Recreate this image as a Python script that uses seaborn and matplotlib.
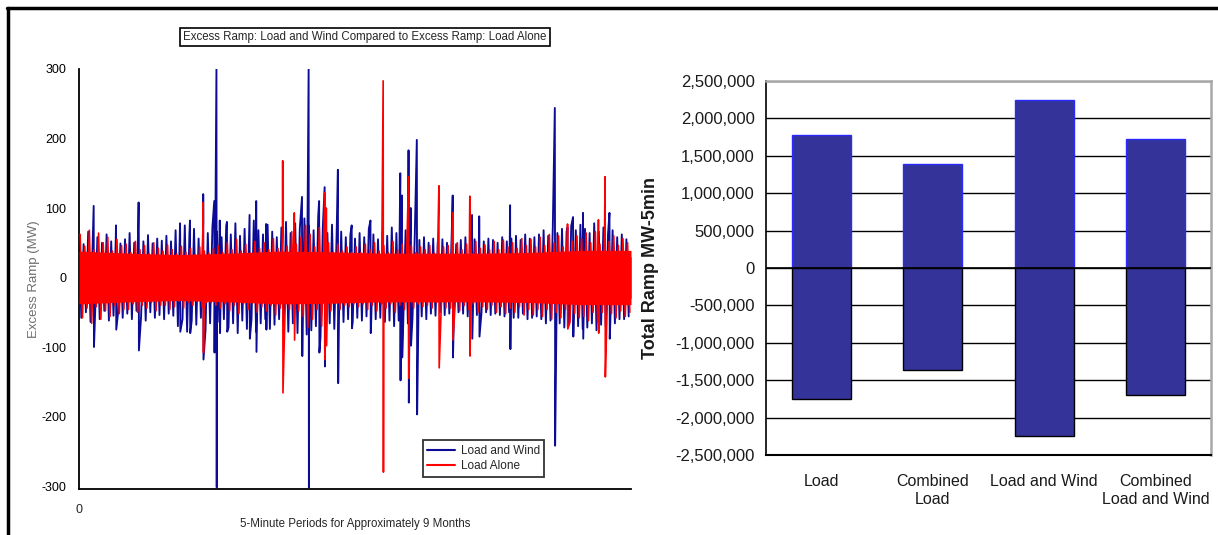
import numpy as np
import pandas as pd
import matplotlib
matplotlib.use("Agg")
import matplotlib.pyplot as plt
import seaborn as sns
from matplotlib.lines import Line2D
from matplotlib.ticker import FuncFormatter, FixedLocator

# ---------------- Left chart data ----------------
N_PERIODS = 78000  # ~9 months of 5-minute periods

# fringe peaks of the dense band, 120 bins across the record
wind_upper = [60, 48, 66, 55, 58, 50, 62, 52, 57, 49,
              55, 64, 50, 58, 52, 61, 49, 56, 53, 60,
              52, 68, 58, 75, 62, 70, 56, 80, 64, 72,
              66, 58, 74, 62, 78, 60, 70, 64, 82, 68,
              62, 76, 66, 58, 72, 80, 64, 78, 70, 85,
              74, 68, 88, 72, 64, 76, 60, 66, 58, 62,
              56, 64, 58, 70, 62, 55, 66, 60, 72, 64,
              60, 68, 56, 62, 54, 58, 50, 56, 52, 55,
              50, 56, 48, 54, 58, 50, 55, 47, 52, 56,
              54, 50, 58, 52, 56, 60, 54, 62, 56, 58,
              62, 68, 60, 72, 64, 70, 66, 74, 68, 76,
              70, 64, 78, 66, 72, 62, 68, 58, 62, 55]
wind_lower = [-58, -50, -64, -52, -60, -48, -62, -55, -50, -58,
              -52, -60, -48, -56, -62, -50, -58, -54, -60, -52,
              -55, -70, -60, -78, -62, -68, -58, -76, -66, -70,
              -64, -60, -72, -66, -80, -62, -74, -60, -78, -66,
              -60, -74, -68, -60, -70, -78, -66, -80, -72, -82,
              -76, -70, -86, -70, -66, -74, -62, -64, -60, -64,
              -58, -62, -56, -68, -60, -58, -64, -62, -70, -62,
              -62, -66, -58, -60, -56, -60, -52, -55, -50, -54,
              -52, -55, -50, -52, -56, -48, -54, -50, -50, -54,
              -52, -54, -56, -50, -58, -58, -52, -60, -58, -56,
              -60, -66, -62, -70, -66, -72, -64, -72, -70, -74,
              -72, -66, -76, -68, -70, -64, -66, -60, -60, -56]
load_upper = [62, 45, 68, 40, 64, 50, 58, 38, 55, 46,
              48, 36, 52, 40, 46, 34, 50, 42, 38, 47,
              40, 34, 45, 36, 42, 33, 44, 38, 35, 42,
              46, 36, 50, 40, 55, 38, 48, 35, 52, 42,
              50, 40, 56, 42, 60, 45, 66, 48, 58, 75,
              62, 44, 72, 40, 50, 36, 48, 38, 44, 36,
              44, 36, 48, 40, 50, 38, 46, 36, 52, 40,
              48, 38, 46, 36, 44, 40, 46, 35, 42, 44,
              46, 38, 50, 40, 48, 36, 52, 42, 47, 40,
              52, 40, 54, 44, 50, 42, 56, 46, 55, 44,
              58, 46, 62, 50, 60, 44, 66, 52, 60, 56,
              64, 50, 66, 48, 62, 52, 60, 46, 56, 50]
load_lower = [-58, -44, -66, -42, -60, -48, -56, -40, -52, -46,
              -46, -38, -50, -40, -44, -36, -48, -40, -40, -46,
              -42, -34, -44, -36, -40, -35, -42, -36, -36, -40,
              -44, -38, -48, -40, -52, -38, -46, -36, -50, -42,
              -48, -40, -54, -44, -58, -46, -64, -48, -56, -72,
              -60, -46, -70, -42, -48, -38, -46, -40, -42, -38,
              -42, -38, -46, -40, -48, -38, -44, -38, -50, -40,
              -46, -38, -44, -38, -42, -40, -44, -36, -42, -44,
              -44, -40, -48, -40, -46, -38, -50, -42, -46, -40,
              -50, -42, -52, -44, -50, -42, -54, -46, -54, -46,
              -56, -46, -60, -50, -58, -46, -64, -52, -58, -56,
              -62, -50, -64, -50, -60, -52, -58, -48, -56, -50]

# half-width of the solid core of each band (12 segments)
wind_core = [30, 28, 28, 30, 32, 32, 30, 28, 28, 28, 30, 30]
load_core = [38, 35, 33, 35, 38, 37, 35, 35, 35, 36, 39, 39]

# isolated spikes: period index, peak up, peak down
wind_spike_pos = [2075, 5226, 8424, 14274, 15678, 17550, 19110, 19422, 19890, 20904,
                  24102, 25038, 26442, 31512, 32448, 33930, 34710, 36582, 38532, 41184,
                  45396, 45630, 46566, 46878, 47736, 52806, 55536, 56550, 60918, 67236,
                  69030, 69810, 71214, 74958]
wind_spike_hi = [103, 75, 108, 78, 82, 120, 110, 300, 82, 80,
                 90, 110, 77, 116, 300, 110, 130, 155, 75, 82,
                 150, 118, 183, 100, 198, 118, 90, 88, 104, 244,
                 72, 87, 93, 93]
wind_spike_lo = [-100, -75, -105, -78, -80, -118, -108, -302, -80, -78,
                 -88, -107, -75, -113, -302, -108, -128, -152, -73, -80,
                 -148, -115, -180, -98, -197, -115, -88, -85, -103, -242,
                 -70, -85, -88, -88]
load_spike_pos = [17550, 28782, 30420, 34710, 34944, 42978, 46566, 50856, 52806, 55224,
                  69030, 73398, 74334]
load_spike_hi = [108, 168, 93, 122, 100, 283, 145, 132, 93, 117, 77, 83, 145]
load_spike_lo = [-108, -166, -90, -118, -98, -280, -145, -130, -90, -113, -74, -80, -143]

series_names = ["Load and Wind", "Load Alone"]

# ---------------- Right chart data ----------------
categories = ["Load", "Combined\nLoad", "Load and Wind", "Combined\nLoad and Wind"]
ramp_up = [1780000, 1390000, 2250000, 1720000]
ramp_down = [-1750000, -1370000, -2240000, -1700000]

# ---------------- Styling ----------------
sns.set_style("white")
plt.rcParams["font.family"] = ["Liberation Sans", "DejaVu Sans"]
plt.rcParams["axes.unicode_minus"] = False
BLUE = "#0b0b95"
RED = "#ff0000"
BAR = "#333399"

W, H = 1218, 535
fig = plt.figure(figsize=(W / 100, H / 100), dpi=100)
fig.patch.set_facecolor("white")


def build(upper, lower, sp_pos, sp_hi, sp_lo, shift):
    n = len(upper)
    step = N_PERIODS / n
    base = np.arange(n) * step + shift * step
    xs = np.concatenate([base, base + 0.5 * step,
                         np.array(sp_pos, float), np.array(sp_pos, float) + 40])
    ys = np.concatenate([upper, lower, sp_hi, sp_lo]).astype(float)
    order = np.argsort(xs, kind="stable")
    return pd.DataFrame({"period": xs[order], "ramp": ys[order]})


# ---------------- Left panel ----------------
axL = fig.add_axes([79 / W, 1 - 489 / H, (631 - 79) / W, (489 - 69) / H])
df_wind = build(wind_upper, wind_lower, wind_spike_pos, wind_spike_hi, wind_spike_lo, 0.0)
df_load = build(load_upper, load_lower, load_spike_pos, load_spike_hi, load_spike_lo, 0.25)

core_x = np.linspace(0, N_PERIODS, len(wind_core))
axL.fill_between(core_x, -np.array(wind_core), np.array(wind_core), color=BLUE, lw=0, zorder=1)
sns.lineplot(data=df_wind, x="period", y="ramp", color=BLUE, lw=1.35, ax=axL,
             estimator=None, sort=False, zorder=2)
axL.fill_between(core_x, -np.array(load_core), np.array(load_core), color=RED, lw=0, zorder=3)
sns.lineplot(data=df_load, x="period", y="ramp", color=RED, lw=1.2, ax=axL,
             estimator=None, sort=False, zorder=4)

axL.set_xlim(0, N_PERIODS)
axL.set_ylim(-304.3, 300)
axL.set_yticks([-300, -200, -100, 0, 100, 200, 300])
axL.set_xticks([0])
axL.set_xticklabels(["0"])
for s in ["top", "right"]:
    axL.spines[s].set_visible(False)
for s in ["left", "bottom"]:
    axL.spines[s].set_color("black")
    axL.spines[s].set_linewidth(1.3)
axL.tick_params(axis="y", direction="out", length=7, width=1, pad=2, labelsize=9, colors="black")
axL.tick_params(axis="x", direction="out", length=8, width=1, pad=3, labelsize=9)
axL.set_xlabel("5-Minute Periods for Approximately 9 Months", fontsize=8.3, labelpad=1)
axL.set_ylabel("Excess Ramp (MW)", fontsize=9.5, color="#6e6e6e", labelpad=1)
axL.grid(False)

handles = [Line2D([], [], color=BLUE, lw=1.5), Line2D([], [], color=RED, lw=1.5)]
leg = axL.legend(handles, series_names, loc="lower left", bbox_to_anchor=(0.612, 0.015),
                 frameon=True, fancybox=False, edgecolor="black",
                 handlelength=2.3, handletextpad=0.5, borderpad=0.4, labelspacing=0.25,
                 prop={"size": 8.5})
leg.get_frame().set_linewidth(1.3)

fig.text(365 / W, 1 - 37 / H, "Excess Ramp: Load and Wind Compared to Excess Ramp: Load Alone",
         ha="center", va="center", fontsize=8.3,
         bbox=dict(boxstyle="square,pad=0.25", fc="white", ec="black", lw=1.2))

# ---------------- Right panel ----------------
axR = fig.add_axes([766 / W, 1 - 455 / H, (1211 - 766) / W, (455 - 81) / H])
df_bar = pd.DataFrame({"category": categories * 2,
                       "ramp": ramp_up + ramp_down,
                       "direction": ["up"] * 4 + ["down"] * 4})
sns.barplot(data=df_bar[df_bar["direction"] == "up"], x="category", y="ramp", order=categories,
            color=BAR, saturation=1, width=0.53, edgecolor="#2a2aff", linewidth=1,
            errorbar=None, ax=axR, zorder=2)
sns.barplot(data=df_bar[df_bar["direction"] == "down"], x="category", y="ramp", order=categories,
            color=BAR, saturation=1, width=0.53, edgecolor="black", linewidth=1,
            errorbar=None, ax=axR, zorder=2)
axR.set_xlim(-0.5, 3.5)
axR.set_ylim(-2500000, 2500000)
axR.set_yticks(np.arange(-2500000, 2500001, 500000))
axR.yaxis.set_major_formatter(FuncFormatter(lambda v, p: f"{int(round(v)):,}"))
axR.yaxis.grid(True, color="black", lw=1)
axR.xaxis.grid(False)
axR.set_axisbelow(True)
axR.axhline(0, color="black", lw=1.2, zorder=3)
axR.spines["top"].set_color("#a8a8a8")
axR.spines["right"].set_color("#a8a8a8")
axR.spines["top"].set_linewidth(1.8)
axR.spines["right"].set_linewidth(1.8)
axR.spines["left"].set_color("black")
axR.spines["bottom"].set_color("black")
axR.spines["left"].set_linewidth(1.2)
axR.spines["bottom"].set_linewidth(1.5)
axR.xaxis.set_minor_locator(FixedLocator([-0.5, 0.5, 1.5, 2.5, 3.5]))
axR.tick_params(axis="x", which="major", length=0, pad=14, labelsize=11.5, labelcolor="#1a1a1a")
axR.tick_params(axis="x", which="minor", length=6, width=1.2, direction="out", color="black")
axR.tick_params(axis="y", length=5, width=1, direction="out", pad=3, labelsize=12, labelcolor="#1a1a1a")
axR.set_xlabel("")
axR.set_ylabel("Total Ramp MW-5min", fontsize=13, fontweight="bold", labelpad=12, color="#1a1a1a")

# outer border of the page
fig.add_artist(Line2D([7 / W, 1], [1 - 8 / H, 1 - 8 / H], color="black", lw=2.5, transform=fig.transFigure))
fig.add_artist(Line2D([8 / W, 8 / W], [0, 1 - 8 / H], color="black", lw=2.5, transform=fig.transFigure))

fig.savefig("out.png", dpi=100, facecolor="white")
